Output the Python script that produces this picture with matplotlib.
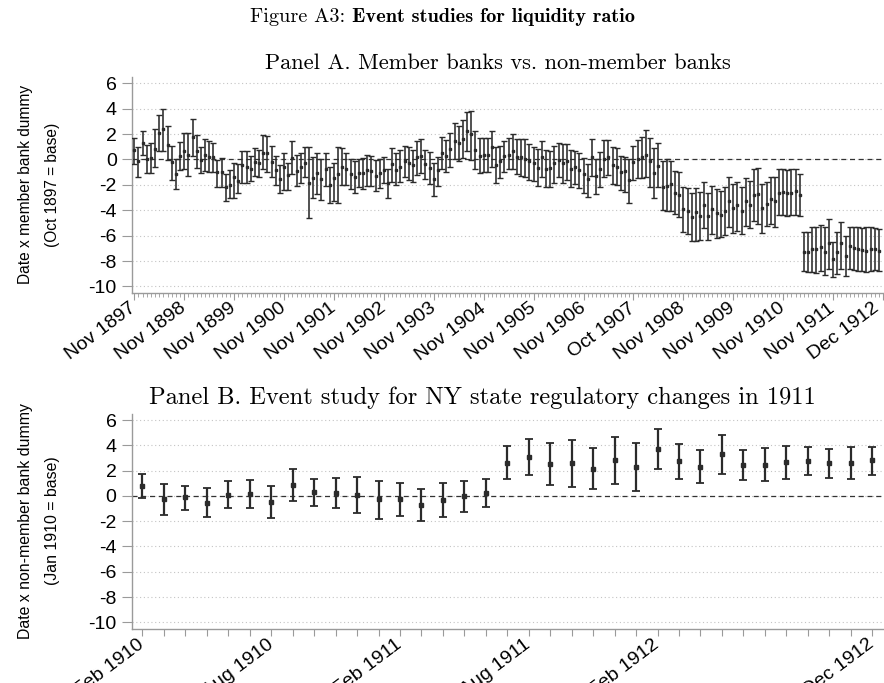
import numpy as np
import matplotlib
matplotlib.use("Agg")
import matplotlib.pyplot as plt
from matplotlib.transforms import ScaledTranslation

plt.rcParams['axes.unicode_minus'] = False

# ---------------- Panel A data ----------------
a_est = [0.71, -0.16, 1.26, 0.0, 0.08, 0.84, 2.1, 2.36, 1.15, -0.2, -1.15, 0.29, 0.63, 0.37, 1.76, 0.68,
         -0.08, 0.34, 0.18, 0.18, -1.02, -0.97, -2.2, -2.0, -1.42, -1.68, -0.45, -0.58, -0.73, -0.21, -0.31,
         0.52, 0.47, -0.21, -0.84, -1.55, -0.63, -1.26, 0.13, -0.92, -0.63, -0.31, -1.89,
         -1.44, -1.1, -1.57, -0.79, -2.0, -1.5, -1.18, -0.58, -0.73, -1.15, -1.42, -1.05, -1.05, -0.84, -0.92,
         -1.31, -1.1, -0.84, -1.84, -0.39, -0.84, -0.58, -0.1, -0.31, -0.47, 0.16, 0.26, -0.37, -0.68, -1.52,
         -0.84, 0.47, 0.26, 0.79, 1.47, 1.26, 1.63, 2.2, 2.0, 0.73, 0.26, 0.31,
         0.37, 1.0, -0.45, -0.1, 0.26, 0.31, 0.68, 0.21, 0.16, 0.0, -0.1, -0.31, -0.66, 0.16, -0.73, -0.68,
         -0.31, -0.05, -0.31, -0.1, -0.79, -0.58, -0.84, -1.18, -1.57, 0.21, -1.31, -0.79, 0.05, 0.16, -0.45,
         -0.58, -0.97, -0.89, -1.63, -0.18, 0.0, 0.16, 0.37, -0.1, -1.1, -0.52, -2.2, -2.1, -1.94, -2.63,
         -2.81, -3.94, -4.1, -4.51, -4.12, -4.46, -3.6, -4.44, -3.94, -4.2, -4.36, -4.1, -3.25, -3.86, -3.62,
         -4.04, -3.25, -3.57, -2.83, -2.73, -3.8, -3.52, -3.15, -3.3, -2.62, -2.57, -2.68, -2.62, -2.49, -2.81,
         -7.27, -7.3, -7.06, -7.09, -6.93, -7.27, -6.56, -7.85, -7.3, -6.61, -7.64, -6.82, -6.98, -7.09, -7.14,
         -7.2, -7.06, -7.06, -7.2]
a_hi = [1.7, 0.95, 2.2, 1.1, 1.29, 2.36, 3.5, 4.0, 2.6, 1.08, 0.0, 1.36, 2.05, 2.05, 3.15, 1.89, 0.95, 1.57,
        1.42, 1.31, -0.05, 0.08, -1.13, -0.84, -0.31, -0.39, 0.68, 0.68, 0.26, 0.89, 0.73, 1.89, 1.84, 1.05,
        0.26, -0.42, 0.47, -0.26, 1.44, 0.34, 0.52, 0.95, 0.95,
        0.16, 0.52, 0.0, 0.47, -0.58, -0.26, 1.0, 0.87, 0.52, 0.0, -0.16, 0.0, 0.1, 0.31, 0.26, -0.05, 0.05,
        0.21, -0.73, 0.89, 0.47, 0.73, 1.05, 1.0, 0.73, 1.44, 1.63, 0.73, 0.58, -0.26, 0.16, 1.79, 1.52, 2.05,
        2.89, 2.63, 3.1, 3.76, 3.84, 2.2, 1.65, 1.68,
        1.65, 2.26, 0.95, 1.05, 1.47, 1.65, 2.0, 1.57, 1.57, 1.57, 1.21, 0.95, 0.79, 1.47, 0.73, 0.68, 1.05,
        1.26, 1.21, 1.21, 0.73, 0.63, 0.47, 0.08, -0.37, 1.63, 0.0, 0.58, 1.52, 1.52, 0.95, 0.87, 0.26, 0.21,
        0.0, 1.05, 1.52, 1.73, 2.31, 1.65, 0.87, 1.31, -0.1, 0.0, -0.1, -0.89,
        -0.97, -2.2, -2.26, -2.62, -2.26, -2.55, -1.78, -2.62, -2.1, -2.36, -2.47, -2.2, -1.36, -1.94, -1.76,
        -2.15, -1.5, -1.68, -0.79, -0.71, -1.94, -1.76, -1.36, -1.42, -0.79, -0.79, -0.84, -0.79, -0.79, -1.15,
        -5.7, -5.7, -5.35, -5.35, -5.17, -5.35, -4.67, -6.48, -5.74, -4.96, -6.04, -5.3, -5.3, -5.35, -5.43,
        -5.3, -5.35, -5.4, -5.5]
a_lo = [-0.37, -1.36, 0.34, -1.1, -1.1, -0.58, 0.63, 0.68, -0.05, -1.63, -2.34, -0.84, -0.79, -1.31, 0.26,
        -0.68, -1.1, -0.89, -1.0, -1.0, -2.15, -2.15, -3.28, -3.0, -3.0, -2.68, -1.84, -1.84, -1.68, -1.31,
        -1.36, -0.73, -0.97, -1.42, -2.02, -2.63, -2.42, -2.42, -1.15, -2.1, -1.89, -1.36, -4.65,
        -3.07, -2.73, -3.2, -2.1, -3.41, -3.25, -3.41, -2.02, -2.02, -2.36, -2.63, -2.2, -2.31, -2.1, -2.1,
        -2.47, -2.28, -1.89, -3.0, -1.76, -2.02, -1.79, -1.42, -1.63, -1.76, -1.26, -1.1, -1.52, -1.94, -2.86,
        -2.1, -0.79, -1.0, -0.58, 0.0, -0.1, 0.1, 0.63, -0.05, -0.73, -1.05, -1.0,
        -0.97, -0.58, -1.89, -1.5, -1.0, -0.79, -0.73, -1.15, -1.31, -1.42, -1.63, -1.68, -2.1, -1.36, -2.2,
        -2.15, -1.89, -1.36, -1.89, -1.63, -2.15, -1.94, -2.28, -2.63, -2.94, -1.31, -2.73, -2.2, -1.42, -1.26,
        -1.94, -2.02, -2.42, -2.55, -3.46, -1.63, -1.5, -1.5, -1.36, -2.2, -3.07, -2.15, -4.0, -4.05, -4.1, -4.3,
        -4.51, -5.7, -5.88, -6.4, -6.4, -6.35, -5.43, -6.35, -5.88, -6.22, -6.09, -5.96, -5.35, -5.78, -5.62,
        -5.88, -5.25, -5.41, -4.83, -5.09, -5.78, -5.25, -5.09, -5.3, -4.38, -4.4, -4.46, -4.41, -4.41, -4.46,
        -8.77, -8.85, -8.85, -8.98, -8.8, -9.1, -8.64, -9.29, -9.03, -8.66, -9.19, -8.66, -8.72, -8.77, -8.82,
        -8.87, -8.8, -8.72, -8.82]
a_tick_pos = [0, 12, 24, 36, 48, 60, 72, 84, 96, 108, 120, 132, 144, 156, 168, 180]
a_tick_labels = ['Nov 1897', 'Nov 1898', 'Nov 1899', 'Nov 1900', 'Nov 1901', 'Nov 1902', 'Nov 1903',
                 'Nov 1904', 'Nov 1905', 'Nov 1906', 'Oct 1907', 'Nov 1908', 'Nov 1909', 'Nov 1910',
                 'Nov 1911', 'Dec 1912']

# ---------------- Panel B data ----------------
b_est = [0.78, -0.27, -0.11, -0.53, 0.10, 0.15, -0.46, 0.89, 0.31, 0.26, 0.10, -0.27, -0.22, -0.72,
         -0.32, -0.03, 0.26, 2.62, 3.05, 2.52, 2.58, 2.15, 2.83, 2.26, 3.73, 2.73, 2.31, 3.31, 2.44, 2.44,
         2.65, 2.75, 2.57, 2.62, 2.81]
b_hi = [1.75, 0.91, 0.78, 0.62, 1.17, 1.26, 0.81, 2.10, 1.31, 1.44, 1.52, 1.20, 0.99, 0.55, 1.04, 1.17,
        1.36, 3.97, 4.47, 4.15, 4.41, 3.78, 4.68, 4.15, 5.30, 4.13, 3.60, 4.84, 3.60, 3.76, 3.97, 3.84, 3.68,
        3.84, 3.86]
b_lo = [-0.20, -1.54, -1.11, -1.69, -0.96, -0.96, -1.77, -0.38, -0.77, -0.93, -1.33, -1.85, -1.56, -2.01,
        -1.69, -1.27, -0.85, 1.30, 1.62, 0.86, 0.73, 0.52, 0.96, 0.38, 2.10, 1.31, 0.99, 1.70, 1.25, 1.15,
        1.31, 1.68, 1.44, 1.36, 1.68]
b_tick_pos = [0, 6, 12, 18, 24, 34]
b_tick_labels = ['Feb 1910', 'Aug 1910', 'Feb 1911', 'Aug 1911', 'Feb 1912', 'Dec 1912']

yticks = [6, 4, 2, 0, -2, -4, -6, -8, -10]

W, H = 884, 683
fig = plt.figure(figsize=(W / 100, H / 100), dpi=100)
fig.patch.set_facecolor('white')

def px_axes(left, top, right, bottom):
    return fig.add_axes([left / W, 1 - bottom / H, (right - left) / W, (bottom - top) / H])

SANS = ['Liberation Sans', 'DejaVu Sans']
BAR = '#2b2b2b'
AXC = '#9a9a9a'
TICKFS = 14
XROT = 37

def style(ax, xlim, pos, labels, minor):
    ax.set_ylim(-10.5, 6.5)
    ax.set_xlim(*xlim)
    ax.set_yticks(yticks)
    ax.set_yticklabels([str(v) for v in yticks], family=SANS, fontsize=TICKFS)
    ax.yaxis.grid(True, linestyle=(0, (1, 2.4)), color='#c4c4c4', linewidth=0.8)
    ax.set_axisbelow(True)
    for s in ['top', 'right']:
        ax.spines[s].set_visible(False)
    for s in ['left', 'bottom']:
        ax.spines[s].set_color(AXC)
        ax.spines[s].set_linewidth(1.0)
    ax.tick_params(axis='y', direction='out', length=7, width=0.8, color=AXC, pad=4)
    ax.tick_params(axis='x', direction='out', length=5, width=0.8, color=AXC, pad=5)
    ax.set_xticks(pos)
    ax.set_xticklabels(labels, family=SANS, fontsize=TICKFS, rotation=XROT, ha='right',
                       va='center', rotation_mode='anchor')
    if minor is not None:
        ax.set_xticks(minor, minor=True)
        ax.tick_params(axis='x', which='minor', direction='out', length=3, width=0.6, color=AXC)
    ax.axhline(0, color='#333333', linewidth=0.9, linestyle=(0, (4, 3)), zorder=1)

# ---------------- Panel A ----------------
axA = px_axes(132, 76.85, 883, 292.75)
xa = np.arange(len(a_est))
a_est_arr = np.array(a_est)
errA = [a_est_arr - np.array(a_lo), np.array(a_hi) - a_est_arr]
axA.errorbar(xa, a_est_arr, yerr=errA, fmt='s', color=BAR, ecolor=BAR, markersize=2.0,
             elinewidth=1.15, capsize=1.9, capthick=1.0, zorder=3)
style(axA, (-0.55, 180.0), a_tick_pos, a_tick_labels, np.arange(0, 181))

# ---------------- Panel B ----------------
axB = px_axes(131.7, 413.7, 884, 628.7)
xb = np.arange(len(b_est))
b_est_arr = np.array(b_est)
errB = [b_est_arr - np.array(b_lo), np.array(b_hi) - b_est_arr]
axB.errorbar(xb, b_est_arr, yerr=errB, fmt='s', color=BAR, ecolor=BAR, markersize=2.3,
             elinewidth=1.6, capsize=2.6, capthick=1.3, zorder=3)
style(axB, (-0.5, 34.55), list(range(len(b_est))),
      [b_tick_labels[b_tick_pos.index(i)] if i in b_tick_pos else '' for i in range(len(b_est))], None)

# keep the last Panel A label inside the picture
lastA = axA.get_xticklabels()[-1]
lastA.set_transform(lastA.get_transform() + ScaledTranslation(-6 / 100, 0, fig.dpi_scale_trans))

fig.canvas.draw()
R = fig.canvas.get_renderer()

def fit_size(t, target, horizontal=True):
    bb = t.get_window_extent(R)
    cur = bb.width if horizontal else bb.height
    t.set_fontsize(t.get_fontsize() * target / cur)

# y labels (rotated)
def ylabel_pair(cy, line1, line2, target_len):
    t1 = fig.text(26 / W, 1 - cy / H, line1, family=SANS, fontsize=10, rotation=90,
                  ha='center', va='center')
    fit_size(t1, target_len, horizontal=False)
    fig.text(53 / W, 1 - cy / H, line2, family=SANS, fontsize=t1.get_fontsize(), rotation=90,
             ha='center', va='center')

ylabel_pair(184.8, 'Date x member bank dummy', '(Oct 1897 = base)', 200)
ylabel_pair(521, 'Date x non-member bank dummy', '(Jan 1910 = base)', 236)

# titles (Computer Modern)
def centered_parts(x_left, x_right, cy, parts, shrink=1.0):
    fs = 12
    txts = [fig.text(0, 1 - cy / H, s, family=f, fontsize=fs, va='center', ha='left') for s, f in parts]
    ws = [t.get_window_extent(R).width for t in txts]
    gap = fs * 0.45 if len(parts) > 1 else 0
    total = sum(ws) + gap * (len(parts) - 1)
    k = (x_right - x_left) / total * shrink
    for t in txts:
        t.set_fontsize(fs * k)
    ws = [t.get_window_extent(R).width for t in txts]
    gap = gap * k
    total = sum(ws) + gap * (len(parts) - 1)
    x = (x_left + x_right) / 2 - total / 2
    for t, w in zip(txts, ws):
        t.set_x(x / W)
        x += w + gap

centered_parts(240, 645, 17, [('Figure A3:', 'cmr10'), ('Event studies for liquidity ratio', 'cmb10')], 0.95)
centered_parts(245, 750, 63, [('Panel A. Member banks vs. non-member banks', 'cmr10')], 0.92)
centered_parts(120, 845, 398, [('Panel B. Event study for NY state regulatory changes in 1911', 'cmr10')], 0.92)

fig.savefig('out.png', dpi=100, facecolor='white')
